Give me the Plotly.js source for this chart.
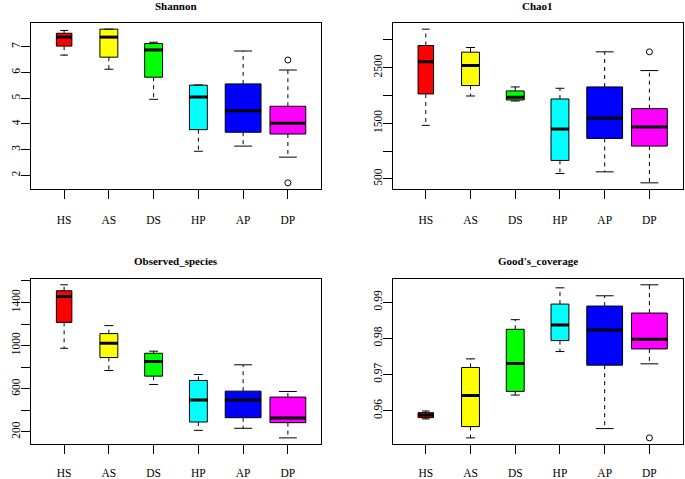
<!DOCTYPE html>
<html>
<head>
<meta charset="utf-8">
<script src="https://cdn.plot.ly/plotly-3.0.1.min.js"></script>
<style>html,body{margin:0;padding:0;background:#fff;}#chart{width:685px;height:479px;}</style>
</head>
<body>
<div id="chart"></div>
<script>
// ---------- data ----------
const categories = ['HS', 'AS', 'DS', 'HP', 'AP', 'DP'];
const groupN = [3, 4, 4, 4, 16, 16];

const shannonLow  = [6.68, 6.13, 4.96, 2.94, 3.14, 2.71];
const shannonQ1   = [7.03, 6.60, 5.82, 3.78, 3.68, 3.61];
const shannonMed  = [7.38, 7.38, 6.88, 5.05, 4.52, 4.03];
const shannonQ3   = [7.53, 7.69, 7.13, 5.51, 5.56, 4.69];
const shannonHigh = [7.64, 7.69, 7.18, 5.52, 6.84, 6.10];
const shannonOutGroup = ['DP', 'DP'];
const shannonOutVal   = [6.49, 1.71];
const shannonTicks  = [2, 3, 4, 5, 6, 7];
const shannonLabels = ['2', '3', '4', '5', '6', '7'];

const chaoLow  = [1462, 1990, 1900, 596, 626, 428];
const chaoQ1   = [2027, 2177, 1918, 831, 1227, 1089];
const chaoMed  = [2604, 2537, 1966, 1395, 1588, 1432];
const chaoQ3   = [2898, 2778, 2081, 1936, 2153, 1762];
const chaoHigh = [3192, 2862, 2153, 2129, 2784, 2447];
const chaoOutGroup = ['DP'];
const chaoOutVal   = [2784];
const chaoTicks  = [500, 1000, 1500, 2000, 2500, 3000];
const chaoLabels = ['500', '', '1500', '', '2500', ''];

const obsLow  = [975, 769, 640, 215, 234, 145];
const obsQ1   = [1215, 889, 717, 292, 332, 286];
const obsMed  = [1455, 1022, 852, 495, 495, 329];
const obsQ3   = [1508, 1111, 929, 677, 578, 523];
const obsHigh = [1563, 1185, 948, 732, 822, 575];
const obsOutGroup = [];
const obsOutVal   = [];
const obsTicks  = [200, 400, 600, 800, 1000, 1200, 1400, 1600];
const obsLabels = ['200', '', '600', '', '1000', '', '1400', ''];

const goodLow  = [0.95771, 0.95248, 0.96431, 0.97633, 0.95505, 0.97294];
const goodQ1   = [0.95807, 0.95560, 0.96532, 0.97936, 0.97257, 0.97706];
const goodMed  = [0.95881, 0.96422, 0.97303, 0.98367, 0.98229, 0.97972];
const goodQ3   = [0.95945, 0.97193, 0.98248, 0.98945, 0.98890, 0.98697];
const goodHigh = [0.95991, 0.97431, 0.98514, 0.99394, 0.99174, 0.99477];
const goodOutGroup = ['DP'];
const goodOutVal   = [0.95248];
const goodTicks  = [0.96, 0.97, 0.98, 0.99];
const goodLabels = ['0.96', '0.97', '0.98', '0.99'];

// ---------- style ----------
const boxColors = ['#FF0000', '#FFFF00', '#00FF00', '#00FFFF', '#0000FF', '#FF00FF'];
const FONT = 'Liberation Serif, Times New Roman, serif';
const W = 685, H = 479;

const panels = [
  {title: 'Shannon', low: shannonLow, q1: shannonQ1, med: shannonMed, q3: shannonQ3, high: shannonHigh,
   og: shannonOutGroup, ov: shannonOutVal, ticks: shannonTicks, labels: shannonLabels,
   px: [31, 321], py: [23, 189], ty: 6, xs: 11},
  {title: 'Chao1', low: chaoLow, q1: chaoQ1, med: chaoMed, q3: chaoQ3, high: chaoHigh,
   og: chaoOutGroup, ov: chaoOutVal, ticks: chaoTicks, labels: chaoLabels,
   px: [392.7, 682.5], py: [23, 189], ty: 6, xs: 11},
  {title: 'Observed_species', low: obsLow, q1: obsQ1, med: obsMed, q3: obsQ3, high: obsHigh,
   og: obsOutGroup, ov: obsOutVal, ticks: obsTicks, labels: obsLabels,
   px: [31, 321], py: [278.7, 444], ty: 261.3, xs: 9},
  {title: "Good's_coverage", low: goodLow, q1: goodQ1, med: goodMed, q3: goodQ3, high: goodHigh,
   og: goodOutGroup, ov: goodOutVal, ticks: goodTicks, labels: goodLabels,
   px: [392.7, 682.5], py: [278.7, 444], ty: 261.3, xs: 9}
];

const maxN = Math.max(...groupN);
const boxW = groupN.map(n => 0.8 * Math.sqrt(n / maxN));
const nCat = categories.length;
const pos = categories.map((c, i) => i + 1);

const traces = [];
const layout = {
  width: W, height: H,
  margin: {l: 0, r: 0, t: 0, b: 0},
  paper_bgcolor: '#fff', plot_bgcolor: '#fff',
  showlegend: false,
  annotations: []
};

panels.forEach((p, k) => {
  const sfx = k === 0 ? '' : String(k + 1);
  const xa = 'x' + sfx, ya = 'y' + sfx;

  // boxes
  categories.forEach((c, i) => {
    traces.push({
      type: 'box', xaxis: xa, yaxis: ya,
      x: [pos[i]], q1: [p.q1[i]], median: [p.med[i]], q3: [p.q3[i]],
      lowerfence: [p.q1[i]], upperfence: [p.q3[i]],
      width: boxW[i], whiskerwidth: 0,
      fillcolor: boxColors[i], line: {color: '#000', width: 1},
      boxpoints: false, hoverinfo: 'skip'
    });
  });

  // dashed whiskers
  const wx = [], wy = [];
  categories.forEach((c, i) => {
    wx.push(pos[i], pos[i], null, pos[i], pos[i], null);
    wy.push(p.q3[i], p.high[i], null, p.q1[i], p.low[i], null);
  });
  traces.push({type: 'scatter', mode: 'lines', xaxis: xa, yaxis: ya, x: wx, y: wy,
    line: {color: '#000', width: 1, dash: '4px,4px'}, hoverinfo: 'skip'});

  // staples
  const sx = [], sy = [];
  categories.forEach((c, i) => {
    const h = boxW[i] / 4;
    sx.push(pos[i] - h, pos[i] + h, null, pos[i] - h, pos[i] + h, null);
    sy.push(p.high[i], p.high[i], null, p.low[i], p.low[i], null);
  });
  traces.push({type: 'scatter', mode: 'lines', xaxis: xa, yaxis: ya, x: sx, y: sy,
    line: {color: '#000', width: 1}, hoverinfo: 'skip'});

  // thick medians
  const mx = [], my = [];
  categories.forEach((c, i) => {
    const h = boxW[i] / 2;
    mx.push(pos[i] - h, pos[i] + h, null);
    my.push(p.med[i], p.med[i], null);
  });
  traces.push({type: 'scatter', mode: 'lines', xaxis: xa, yaxis: ya, x: mx, y: my,
    line: {color: '#000', width: 3}, hoverinfo: 'skip'});

  // outliers
  if (p.og.length) {
    traces.push({type: 'scatter', mode: 'markers', xaxis: xa, yaxis: ya,
      x: p.og.map(g => categories.indexOf(g) + 1), y: p.ov,
      marker: {symbol: 'circle-open', size: 6, color: '#000', line: {width: 1, color: '#000'}},
      hoverinfo: 'skip'});
  }

  const all = p.low.concat(p.high, p.ov);
  const mn = Math.min(...all), mxv = Math.max(...all), d = (mxv - mn) * 0.04;
  const xd = 0.04 * nCat;

  layout['xaxis' + sfx] = {
    domain: [p.px[0] / W, p.px[1] / W], anchor: ya,
    range: [0.5 - xd, nCat + 0.5 + xd],
    tickmode: 'array', tickvals: pos, ticktext: categories,
    ticks: 'outside', ticklen: 9, tickwidth: 1, tickcolor: '#000',
    ticklabelstandoff: p.xs,
    showgrid: false, zeroline: false, showline: true, mirror: true,
    linecolor: '#000', linewidth: 1,
    tickfont: {family: FONT, size: 11.5, color: '#000'}
  };
  layout['yaxis' + sfx] = {
    domain: [1 - p.py[1] / H, 1 - p.py[0] / H], anchor: xa,
    range: [mn - d, mxv + d],
    tickmode: 'array', tickvals: p.ticks, ticktext: p.labels,
    ticks: 'outside', ticklen: 9, tickwidth: 1, tickcolor: '#000',
    tickangle: -90, ticklabelstandoff: -4,
    showgrid: false, zeroline: false, showline: true, mirror: true,
    linecolor: '#000', linewidth: 1,
    tickfont: {family: FONT, size: 11.5, color: '#000'}
  };
  layout.annotations.push({
    xref: 'paper', yref: 'paper',
    x: (p.px[0] + p.px[1]) / 2 / W, y: 1 - p.ty / H,
    xanchor: 'center', yanchor: 'middle',
    text: '<b>' + p.title + '</b>', showarrow: false,
    font: {family: FONT, size: 11, color: '#000'}
  });
});

Plotly.newPlot('chart', traces, layout, {staticPlot: true, displayModeBar: false});
</script>
</body>
</html>
